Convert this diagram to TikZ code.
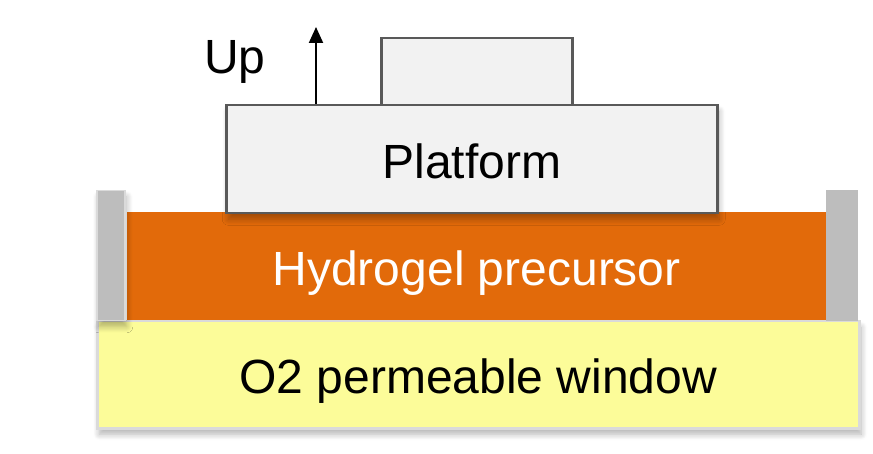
\documentclass[tikz,border=0pt]{standalone}
\usepackage{fontspec}
\setmainfont{Liberation Sans}
\usetikzlibrary{arrows.meta,shadows.blur}

\definecolor{gelorange}{HTML}{E26A0A}
\definecolor{winyellow}{HTML}{FCFC99}
\definecolor{wallgray}{HTML}{BDBDBD}
\definecolor{edgegray}{HTML}{595959}
\definecolor{rimgray}{HTML}{DADADA}
\definecolor{platfill}{HTML}{F2F2F2}

\tikzset{
  layer/.style = {rectangle, inner sep=0pt, anchor=north west,
                  text height=44pt, text depth=6pt,
                  font=\fontsize{48}{52}\selectfont},
  soft/.style  = {blur shadow={shadow xshift=2pt, shadow yshift=-6pt,
                  shadow opacity=30, shadow blur steps=8, shadow blur radius=6pt}},
}

\begin{document}
\begin{tikzpicture}[x=1pt, y=-1pt]
    \useasboundingbox (0,0) rectangle (873,454);
    % window, gel and side walls
    \node[layer, soft, fill=winyellow, draw=rimgray, line width=2.5pt,
          minimum width=762pt, minimum height=107pt] (window) at (96,320) {O2 permeable window};
    \node[layer, fill=gelorange, text=white,
          minimum width=699pt, minimum height=108pt] (gel) at (127,212) {Hydrogel precursor};
    \node[layer, soft, fill=wallgray, draw=rimgray, line width=1.5pt,
          minimum width=28pt, minimum height=130pt] (wallL) at (96,190) {};
    \node[layer, fill=wallgray,
          minimum width=32pt, minimum height=131pt] (wallR) at (826,190) {};
    % platform
    \node[layer, soft, fill=platfill, draw=edgegray, line width=2.5pt,
          minimum width=491pt, minimum height=108pt] (platform) at (225,104) {Platform};
    \node[layer, fill=platfill, draw=edgegray, line width=2.5pt,
          minimum width=191pt, minimum height=67pt] (stem) at (380,37) {};
    % lift direction
    \coordinate (tip) at (316,27);
    \draw[line width=2pt, -{Triangle[length=16pt,width=14pt]}] (tip |- platform.north) -- (tip);
    \node[anchor=base, font=\fontsize{48}{52}\selectfont] (up) at (235,74) {Up};
\end{tikzpicture}
\end{document}
